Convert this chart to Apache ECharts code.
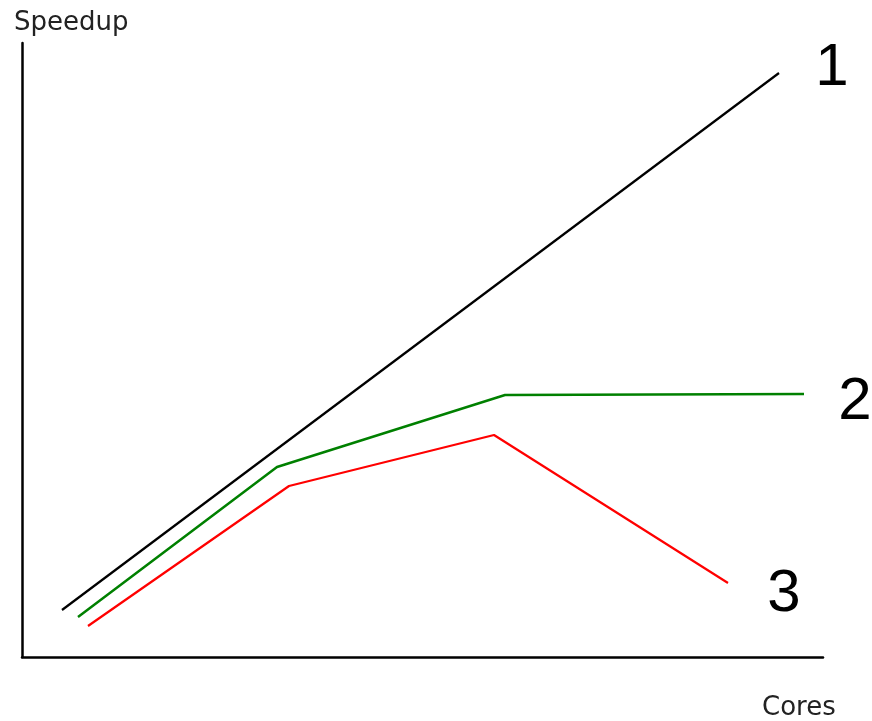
<!DOCTYPE html>
<html>
<head>
<meta charset="utf-8">
<script src="https://cdn.jsdelivr.net/npm/echarts@6/dist/echarts.min.js"></script>
<style>html,body{margin:0;padding:0;background:#fff}#c{width:872px;height:721px}</style>
</head>
<body>
<div id="c"></div>
<script>
// Schematic speedup curves (arbitrary units; no tick labels shown)
const seriesNames = ['1', '2', '3'];
const idealCores = [40, 757];
const idealSpeedup = [47, 584];
const plateauCores = [56, 255, 483, 782];
const plateauSpeedup = [40, 190, 262, 263];
const declineCores = [66, 267, 472, 706];
const declineSpeedup = [31, 171, 222, 74];
const xLabel = 'Cores';
const yLabel = 'Speedup';

const zip = (xs, ys) => xs.map((x, i) => [x, ys[i]]);
const chart = echarts.init(document.getElementById('c'));
const endLbl = (off) => ({
  show: true,
  formatter: p => p.seriesName,
  fontFamily: 'Liberation Sans, Arial, sans-serif',
  fontSize: 60,
  color: '#000',
  align: 'center',
  verticalAlign: 'middle',
  offset: off
});
const axisTxt = { fontFamily: 'DejaVu Sans', fontSize: 26, fontWeight: 'normal', color: '#222' };
chart.setOption({
  animation: false,
  backgroundColor: '#fff',
  title: [
    { text: yLabel, left: 9, top: 5, textStyle: axisTxt },
    { text: xLabel, left: 757, top: 690, textStyle: axisTxt }
  ],
  grid: { left: 22, right: 49, top: 43, bottom: 64 },
  xAxis: {
    type: 'value', min: 0, max: 801,
    axisLine: { show: true, onZero: false, lineStyle: { color: '#000', width: 2.5 } },
    axisTick: { show: false }, axisLabel: { show: false }, splitLine: { show: false }
  },
  yAxis: {
    type: 'value', min: 0, max: 614,
    axisLine: { show: true, onZero: false, lineStyle: { color: '#000', width: 2.5 } },
    axisTick: { show: false }, axisLabel: { show: false }, splitLine: { show: false }
  },
  series: [
    { name: seriesNames[0], type: 'line', data: zip(idealCores, idealSpeedup), symbol: 'none',
      lineStyle: { color: '#000', width: 2.2 }, endLabel: endLbl([45, -5]) },
    { name: seriesNames[1], type: 'line', data: zip(plateauCores, plateauSpeedup), symbol: 'none',
      lineStyle: { color: '#008000', width: 2.5 }, endLabel: endLbl([43, 8]) },
    { name: seriesNames[2], type: 'line', data: zip(declineCores, declineSpeedup), symbol: 'none',
      lineStyle: { color: '#ff0000', width: 2.2 }, endLabel: endLbl([48, 11]) }
  ]
});
</script>
</body>
</html>
